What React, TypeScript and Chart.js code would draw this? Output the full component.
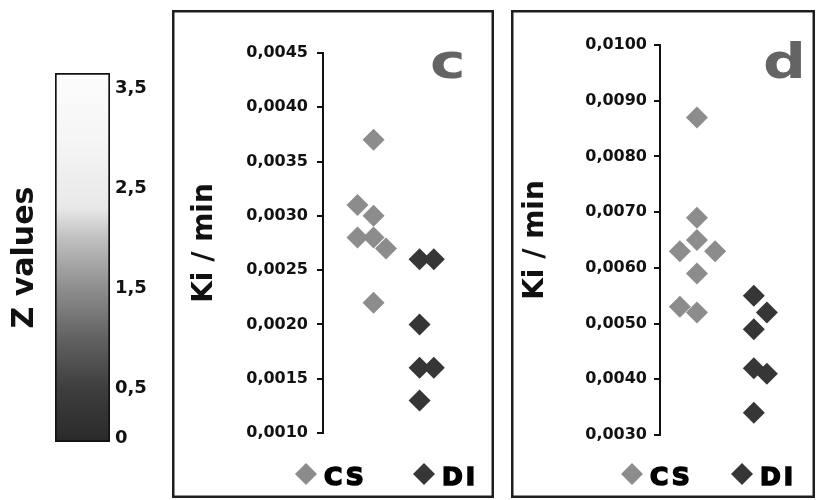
import React, { useEffect, useRef } from "react";
import { Chart, registerables } from "chart.js";
Chart.register(...registerables);

const FONT = "'DejaVu Sans', 'Liberation Sans', sans-serif";

// ---- Colour bar (Z values) ----
const zTicks = [0, 0.5, 1.5, 2.5, 3.5];
const zRange = [-0.04, 3.65];
const zStops = [-0.04, 0, 0.5, 1.0, 1.5, 2.0, 2.3, 3.0, 3.65];
const zShades = ["#262626", "#2b2b2b", "#3e3e3e", "#626262", "#8e8e8e", "#c0c0c0", "#e8e8e8", "#f6f6f6", "#fcfcfc"];

// ---- Panel c ----
const seriesNames = ["CS", "DI"];
const seriesColors = ["#8c8c8c", "#363636"];
const cCS = [0.0037, 0.0031, 0.003, 0.0028, 0.0028, 0.0027, 0.0022];
const cCSJitter = [0, -0.35, 0, -0.35, 0, 0.27, 0];
const cDI = [0.0026, 0.0026, 0.002, 0.0016, 0.0016, 0.0013];
const cDIJitter = [0, 0.31, 0, 0, 0.31, 0];
const cTicks = [0.001, 0.0015, 0.002, 0.0025, 0.003, 0.0035, 0.004, 0.0045];

// ---- Panel d ----
const dCS = [0.0087, 0.0069, 0.0065, 0.0063, 0.0063, 0.0059, 0.0053, 0.0052];
const dCSJitter = [0, 0, 0, -0.3, 0.32, 0, -0.3, 0];
const dDI = [0.0055, 0.0052, 0.0049, 0.0042, 0.0041, 0.0034];
const dDIJitter = [0, 0.23, 0, 0, 0.23, 0];
const dTicks = [0.003, 0.004, 0.005, 0.006, 0.007, 0.008, 0.009, 0.01];

const fmt4 = (v: number) => Number(v).toFixed(4).replace(".", ",");
const fmtZ = (v: number) => (v === 0 ? "0" : Number(v).toFixed(1).replace(".", ","));

const panelDecor = {
  id: "panelDecor",
  afterDraw(chart: any, _args: any, opts: any) {
    const ctx = chart.ctx;
    const w = chart.width;
    const h = chart.height;
    ctx.save();
    // frame
    ctx.strokeStyle = "#1e1e1e";
    ctx.lineWidth = 2.5;
    ctx.strokeRect(1.25, 1.25, w - 2.5, h - 2.5);
    // panel letter
    ctx.save();
    ctx.font = `bold 48px ${FONT}`;
    ctx.fillStyle = "#646464";
    ctx.textBaseline = "alphabetic";
    ctx.textAlign = "left";
    ctx.translate(opts.letterX, opts.letterY);
    ctx.scale(1.25, 1);
    ctx.fillText(opts.letter, 0, 0);
    ctx.restore();
    // legend
    chart.data.datasets.forEach((ds: any, i: number) => {
      const cx = opts.legendX[i];
      const cy = opts.legendY;
      const r = 11;
      ctx.beginPath();
      ctx.moveTo(cx, cy - r);
      ctx.lineTo(cx + r, cy);
      ctx.lineTo(cx, cy + r);
      ctx.lineTo(cx - r, cy);
      ctx.closePath();
      ctx.fillStyle = ds.backgroundColor;
      ctx.fill();
      ctx.font = `bold 25px ${FONT}`;
      (ctx as any).letterSpacing = "3px";
      ctx.fillStyle = "#000";
      ctx.strokeStyle = "#000";
      ctx.lineWidth = 1.6;
      ctx.textBaseline = "alphabetic";
      ctx.textAlign = "left";
      ctx.fillText(ds.label, cx + 18, cy + 11);
      ctx.strokeText(ds.label, cx + 18, cy + 11);
      (ctx as any).letterSpacing = "0px";
    });
    ctx.restore();
  },
};

type PanelProps = {
  left: number; top: number; width: number; height: number;
  cs: number[]; csJ: number[]; di: number[]; diJ: number[];
  ticks: number[]; yMin: number; yMax: number;
  xMin: number; xMax: number;
  padTop: number; padBottom: number; padRight: number;
  axisWidth: number; tickPad: number; titlePad: number;
  letter: string; letterX: number; letterY: number;
  legendX: number[];
};

function Panel(p: PanelProps) {
  const ref = useRef<HTMLCanvasElement | null>(null);
  useEffect(() => {
    if (!ref.current) return;
    const chart = new Chart(ref.current, {
      type: "scatter",
      data: {
        datasets: [
          {
            label: seriesNames[0],
            data: p.cs.map((v, i) => ({ x: 1 + p.csJ[i], y: v })),
            pointStyle: "rectRot",
            pointRadius: 11,
            backgroundColor: seriesColors[0],
            borderColor: seriesColors[0],
            borderWidth: 0,
          },
          {
            label: seriesNames[1],
            data: p.di.map((v, i) => ({ x: 2 + p.diJ[i], y: v })),
            pointStyle: "rectRot",
            pointRadius: 11,
            backgroundColor: seriesColors[1],
            borderColor: seriesColors[1],
            borderWidth: 0,
          },
        ],
      },
      options: {
        animation: false,
        responsive: false,
        events: [],
        layout: { padding: { top: p.padTop, bottom: p.padBottom, right: p.padRight, left: 0 } },
        plugins: {
          legend: { display: false },
          tooltip: { enabled: false },
          panelDecor: { letter: p.letter, letterX: p.letterX, letterY: p.letterY, legendX: p.legendX, legendY: 464 },
        } as any,
        scales: {
          x: { type: "linear", display: false, min: p.xMin, max: p.xMax },
          y: {
            type: "linear",
            min: p.yMin,
            max: p.yMax,
            afterBuildTicks: (s: any) => { s.ticks = p.ticks.map((v) => ({ value: v })); },
            afterFit: (s: any) => { s.width = p.axisWidth; },
            ticks: {
              color: "#111",
              padding: p.tickPad,
              font: { family: FONT, size: 16, weight: "bold" },
              callback: (v: any) => fmt4(Number(v)),
            },
            grid: { drawOnChartArea: false, drawTicks: true, tickLength: 6, color: "#111", lineWidth: 2 },
            border: { display: true, color: "#111", width: 2 },
            title: {
              display: true,
              text: "Ki / min",
              color: "#111",
              font: { family: FONT, size: 28, weight: "bold" },
              padding: { top: p.titlePad, bottom: 0 },
            },
          },
        },
      },
      plugins: [panelDecor],
    } as any);
    return () => chart.destroy();
  }, []);
  return (
    <canvas
      ref={ref}
      width={p.width}
      height={p.height}
      style={{ position: "absolute", left: p.left, top: p.top, width: p.width, height: p.height }}
    />
  );
}

function ColorBar() {
  const ref = useRef<HTMLCanvasElement | null>(null);
  useEffect(() => {
    if (!ref.current) return;
    const chart = new Chart(ref.current, {
      type: "bar",
      data: {
        labels: ["Z"],
        datasets: [
          {
            data: [zRange],
            yAxisID: "y",
            backgroundColor: (c: any) => {
              const ch = c.chart;
              const sc = ch.scales && ch.scales.y;
              if (!ch.chartArea || !sc) return "#888";
              const y0 = sc.getPixelForValue(zRange[0]);
              const y1 = sc.getPixelForValue(zRange[1]);
              const g = ch.ctx.createLinearGradient(0, y0, 0, y1);
              zStops.forEach((v, i) => {
                g.addColorStop((v - zRange[0]) / (zRange[1] - zRange[0]), zShades[i]);
              });
              return g;
            },
            borderColor: "#111",
            borderWidth: 2,
            borderSkipped: false,
            barPercentage: 1,
            categoryPercentage: 1,
          },
        ],
      },
      options: {
        animation: false,
        responsive: false,
        events: [],
        layout: { padding: { top: 73, bottom: 58, left: 0, right: 0 } },
        plugins: { legend: { display: false }, tooltip: { enabled: false } },
        scales: {
          x: { display: false },
          y: {
            position: "left",
            min: zRange[0],
            max: zRange[1],
            afterFit: (s: any) => { s.width = 55; },
            ticks: { display: false },
            grid: { display: false, drawTicks: false },
            border: { display: false },
            title: {
              display: true,
              text: "Z values",
              color: "#111",
              font: { family: FONT, size: 30, weight: "bold" },
              padding: { top: 7, bottom: 0 },
            },
          },
          y2: {
            position: "right",
            min: zRange[0],
            max: zRange[1],
            afterBuildTicks: (s: any) => { s.ticks = zTicks.map((v) => ({ value: v })); },
            afterFit: (s: any) => { s.width = 60; },
            ticks: {
              color: "#111",
              padding: 5,
              font: { family: FONT, size: 18, weight: "bold" },
              callback: (v: any) => fmtZ(Number(v)),
            },
            grid: { display: false, drawTicks: false },
            border: { display: false },
          },
        },
      },
    } as any);
    return () => chart.destroy();
  }, []);
  return (
    <canvas
      ref={ref}
      width={170}
      height={500}
      style={{ position: "absolute", left: 0, top: 0, width: 170, height: 500 }}
    />
  );
}

export default function App() {
  return (
    <div style={{ position: "absolute", left: 0, top: 0, width: 818, height: 500, background: "#fff", overflow: "hidden" }}>
      <ColorBar />
      <Panel
        left={172} top={10} width={322} height={488}
        cs={cCS} csJ={cCSJitter} di={cDI} diJ={cDIJitter}
        ticks={cTicks} yMin={0.001} yMax={0.0045}
        xMin={-0.1} xMax={3.38}
        padTop={43} padBottom={65} padRight={4}
        axisWidth={151} tickPad={9} titlePad={16}
        letter="c" letterX={258} letterY={68}
        legendX={[134, 252]}
      />
      <Panel
        left={511} top={10} width={304} height={488}
        cs={dCS} csJ={dCSJitter} di={dDI} diJ={dDIJitter}
        ticks={dTicks} yMin={0.003} yMax={0.01}
        xMin={0.35} xMax={2.883}
        padTop={35} padBottom={63} padRight={3}
        axisWidth={149} tickPad={7} titlePad={8}
        letter="d" letterX={252} letterY={68}
        legendX={[121, 231]}
      />
    </div>
  );
}
